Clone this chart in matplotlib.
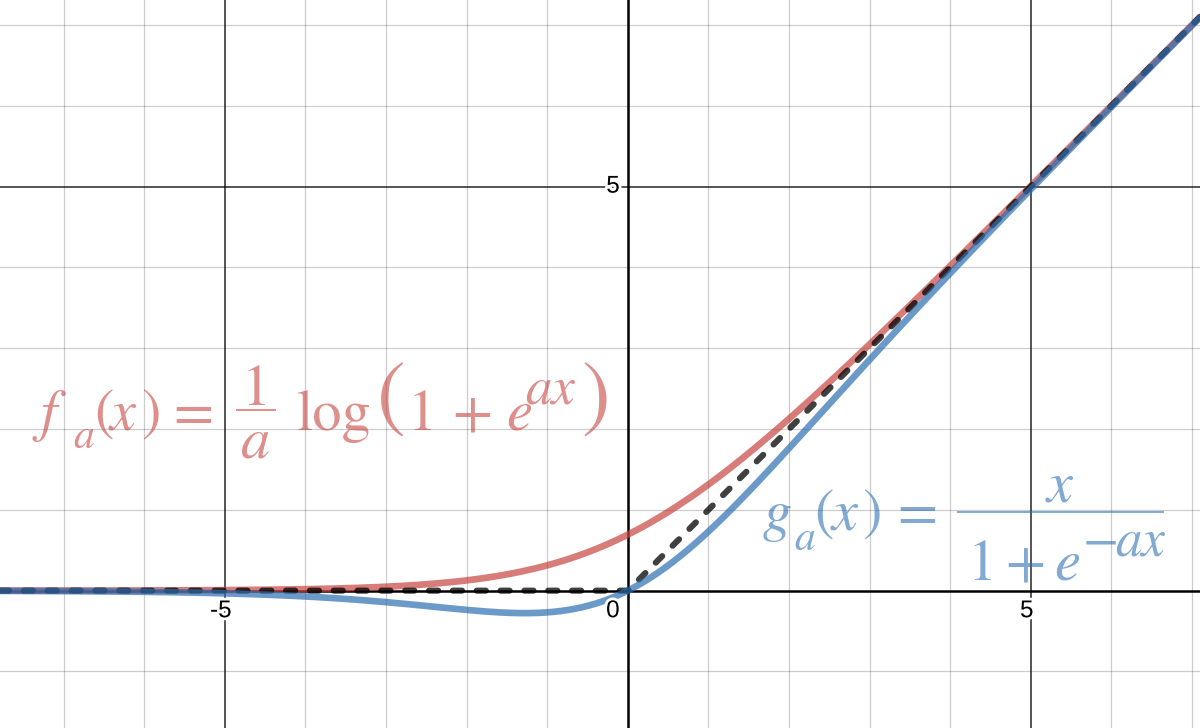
import numpy as np
import matplotlib.pyplot as plt
import matplotlib.patheffects as pe
from matplotlib.lines import Line2D

plt.rcParams["font.family"] = ["Liberation Sans", "DejaVu Sans"]

# parameter of the plotted functions and the view window
a = 1.0
x_view = [-7.79, 7.10]
y_view = [-1.70, 7.31]
tick_vals = [-5, 5]

x = np.linspace(x_view[0], x_view[1], 1500)
softplus = np.log1p(np.exp(a * x)) / a
swish = x / (1 + np.exp(-a * x))
relu = np.maximum(x, 0)

red = "#c74440"
blue = "#2d70b3"
W, H = 1200, 728

fig = plt.figure(figsize=(W / 100, H / 100), dpi=100)
ax = fig.add_axes([0, 0, 1, 1])
ax.set_xlim(*x_view)
ax.set_ylim(*y_view)
ax.axis("off")

# grid: minor every unit, major every 5, axes on top
for v in range(-8, 9):
    if v == 0:
        continue
    major = v % 5 == 0
    kw = dict(color="black", alpha=0.85 if major else 0.2,
              lw=1.1 if major else 0.9, zorder=1)
    ax.axvline(v, **kw)
    ax.axhline(v, **kw)
ax.axvline(0, color="black", lw=1.8, zorder=2)
ax.axhline(0, color="black", lw=1.8, zorder=2)

# curves
ax.plot(x, softplus, color=red, lw=4.8, alpha=0.7, zorder=3,
        solid_capstyle="round")
ax.plot(x, relu, color="black", lw=4.4, alpha=0.75, zorder=4,
        dashes=(1.5, 2.4), dash_capstyle="round")
ax.plot(x, swish, color=blue, lw=4.8, alpha=0.7, zorder=5,
        solid_capstyle="round")

# tick labels
halo = [pe.withStroke(linewidth=4, foreground="white")]
for t in tick_vals:
    ax.text(t - 0.05, -0.255, str(t), ha="center", va="center", fontsize=17.5,
            zorder=6, path_effects=halo)
ax.text(-0.1, -0.255, "0", ha="right", va="center", fontsize=17.5,
        zorder=6, path_effects=halo)
ax.text(-0.1, 5, "5", ha="right", va="center", fontsize=17.5,
        zorder=6, path_effects=halo)


# formula labels, placed piece by piece in image pixels (y from top)
def put(s, px, py, color, size=42, it=False, ha="left", va="baseline"):
    fig.text(px / W, 1 - py / H, s, color=color, alpha=0.6, fontsize=size,
             family="STIXGeneral", style="italic" if it else "normal",
             ha=ha, va=va, zorder=7)


def bar(x0, x1, py, color):
    fig.add_artist(Line2D([x0 / W, x1 / W], [1 - py / H] * 2, color=color,
                          alpha=0.6, lw=1.4, transform=fig.transFigure))


# f_a(x) = 1/a log(1 + e^{ax})
put("f", 41, 430, red, it=True)
put("a", 73, 448, red, size=30, it=True)
put("(", 94, 430, red)
put("x", 110, 430, red, it=True)
put(")", 141, 430, red)
put("=", 173, 430, red)
bar(237, 275, 410, red)
put("1", 256, 405, red, ha="center")
put("a", 256, 457, red, it=True, ha="center")
put("log", 297, 430, red)
put("(", 377, 401, red, size=62, va="center")
put("1", 408, 430, red)
put("+", 452, 430, red)
put("e", 506, 430, red, it=True)
put("ax", 525, 403, red, size=38, it=True)
put(")", 582, 401, red, size=62, va="center")

# g_a(x) = x / (1 + e^{-ax})
put("g", 763, 530, blue, it=True)
put("a", 794, 550, blue, size=30, it=True)
put("(", 814, 530, blue)
put("x", 832, 530, blue, it=True)
put(")", 862, 530, blue)
put("=", 897, 530, blue)
bar(958, 1163, 512, blue)
put("x", 1060, 502, blue, it=True, ha="center")
put("1", 968, 580, blue)
put("+", 1005, 580, blue)
put("e", 1054, 580, blue, it=True)
put("\u2212", 1083, 555, blue, size=38)
put("ax", 1115, 555, blue, size=38, it=True)

fig.savefig("out.png", dpi=100)
